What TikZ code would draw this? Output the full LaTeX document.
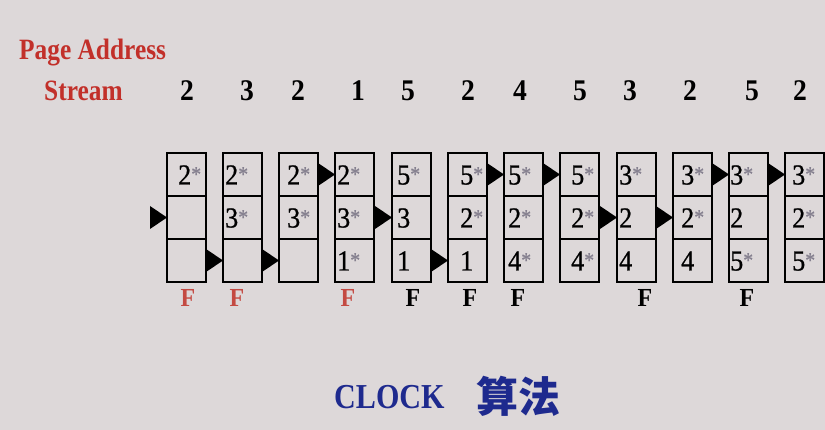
\documentclass[tikz,border=0pt]{standalone}
\usepackage{fontspec}
\setmainfont{Liberation Serif}
\newfontfamily\cjk{Noto Sans CJK SC}
\newfontfamily\narrowb{Liberation Serif Bold}[FakeStretch=0.86]
\newfontfamily\numb{Liberation Serif Bold}[FakeStretch=0.92]
\newfontfamily\celld{Liberation Serif}[FakeStretch=0.9, FakeBold=0.8]
\usetikzlibrary{calc}
\definecolor{bg}{HTML}{DDD8D9}
\definecolor{tred}{HTML}{C2302A}
\definecolor{fred}{HTML}{C44A42}
\definecolor{tblue}{HTML}{1E2A8E}
\definecolor{stargray}{HTML}{85808F}
\newcommand{\st}{{\color{stargray}\fontsize{22}{22}\selectfont\raisebox{3pt}{*}}}
\tikzset{
  cellbox/.style={draw, line width=1.2pt, rectangle, minimum width=39pt, minimum height=43pt, inner sep=0pt, outer sep=0pt},
  outerbox/.style={draw, line width=2.4pt},
  digit/.style={anchor=base west, inner sep=0pt, font=\celld\fontsize{29}{31}\selectfont},
  streamnum/.style={anchor=base, inner sep=0pt, font=\numb\fontsize{30}{32}\selectfont},
  flab/.style={anchor=base, inner sep=0pt, font=\numb\fontsize{26}{28}\selectfont},
  pointer/.style={fill=black},
}
\begin{document}
\begin{tikzpicture}[x=1pt,y=-1pt]
\fill[bg] (0,0) rectangle (825,430);
\useasboundingbox (0,0) rectangle (825,430);

% titles
\node[anchor=base west, inner sep=0pt, text=tred, font=\narrowb\fontsize{29.5}{31}\selectfont] (pa) at (19,60) {Page Address};
\node[anchor=base west, inner sep=0pt, text=tred, font=\narrowb\fontsize{29.5}{31}\selectfont] (stream) at (44,101) {Stream};

% stream numbers
\foreach \i/\x/\v in {1/187/2, 2/247/3, 3/298/2, 4/358/1, 5/408/5, 6/468/2, 7/520/4, 8/580/5, 9/630/3, 10/690/2, 11/752/5, 12/800/2}
  \node[streamnum] (s\i) at (\x,101) {\v};

% frames
\foreach \i/\x/\o/\a/\b/\c in {
  1/167/11/{2\st}/{}/{},
  2/223/2/{2\st}/{3\st}/{},
  3/279/8/{2\st}/{3\st}/{},
  4/335/2/{2\st}/{3\st}/{1\st},
  5/392/5/{5\st}/{3}/{1},
  6/448/12/{5\st}/{2\st}/{1},
  7/504/4/{5\st}/{2\st}/{4\st},
  8/560/11/{5\st}/{2\st}/{4\st},
  9/617/2/{3\st}/{2}/{4},
  10/673/8/{3\st}/{2\st}/{4},
  11/729/1/{3\st}/{2}/{5\st},
  12/785/7/{3\st}/{2\st}/{5\st}} {
  \node[cellbox] (c\i-1) at (\x+19.5,174.5) {};
  \node[cellbox] (c\i-2) at (\x+19.5,217.5) {};
  \node[cellbox] (c\i-3) at (\x+19.5,260.5) {};
  \draw[outerbox] (c\i-1.north west) rectangle (c\i-3.south east);
  \node[digit] (t\i-1) at ($(c\i-1.west)+(\o,10)$) {\a};
  \node[digit] (t\i-2) at ($(c\i-2.west)+(\o,10)$) {\b};
  \node[digit] (t\i-3) at ($(c\i-3.west)+(\o,10)$) {\c};
}

% clock pointers
\foreach \i/\r in {1/2, 2/3, 3/3, 4/1, 5/2, 6/3, 7/1, 8/1, 9/2, 10/2, 11/1, 12/1}
  \fill[pointer] (c\i-\r.west) -- ++(-17,-11.5) -- ++(0,23) -- cycle;

% faults
\foreach \i/\x in {1/188, 2/237, 4/348}
  \node[flab, text=fred] (f\i) at (\x,307) {F};
\foreach \i/\x in {5/413, 6/470, 7/518, 9/645, 11/747}
  \node[flab, text=black] (f\i) at (\x,307) {F};

% caption
\node[anchor=base west, inner sep=0pt, text=tblue, font=\narrowb\fontsize{35}{37}\selectfont] (clock) at (334,408) {CLOCK};
\node[anchor=base west, inner sep=0pt, text=tblue, font=\cjk\bfseries\fontsize{42}{44}\selectfont] (suanfa) at (476,413) {算法};
\end{tikzpicture}
\end{document}
